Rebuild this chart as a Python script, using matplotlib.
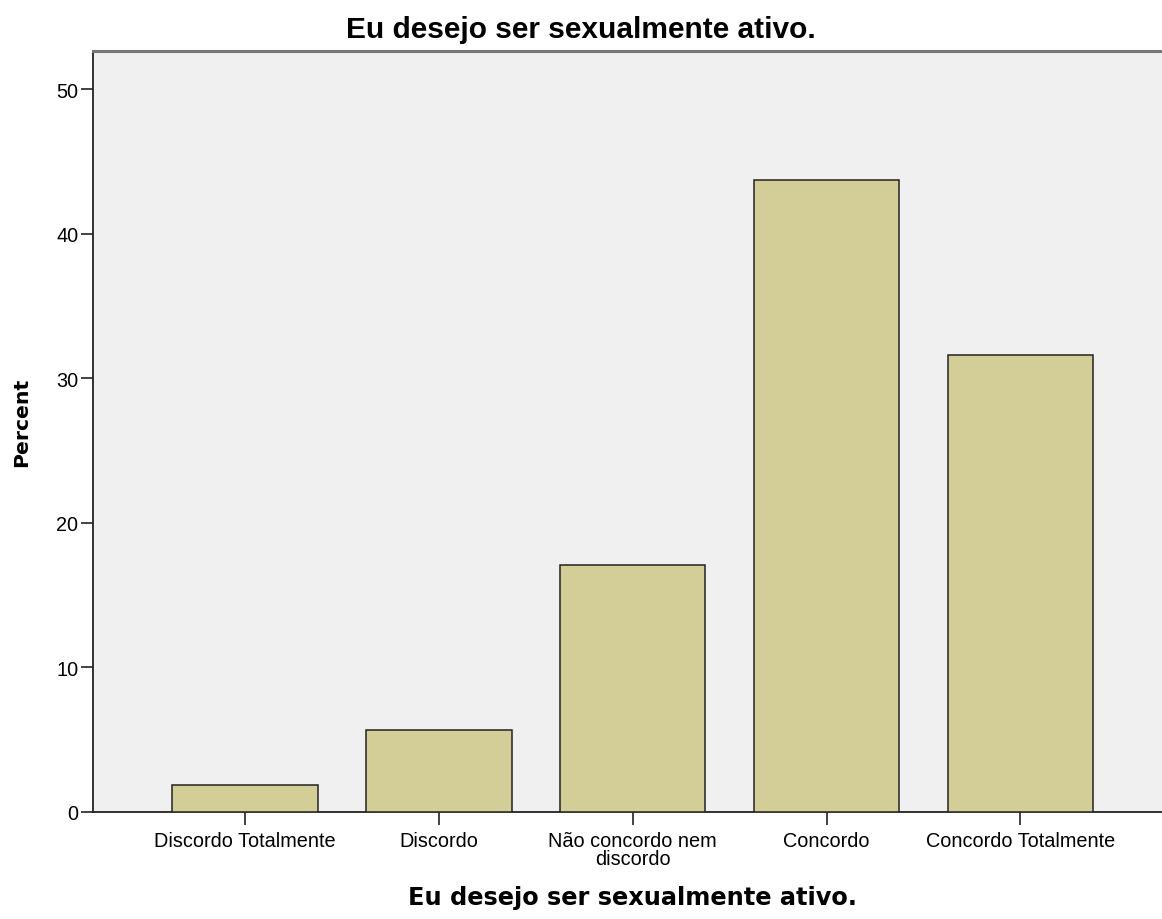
import matplotlib
matplotlib.use("Agg")
import matplotlib.pyplot as plt
import numpy as np

categories = ["Discordo Totalmente", "Discordo", "Não concordo nem\ndiscordo",
              "Concordo", "Concordo Totalmente"]
percent = [1.9, 5.7, 17.1, 43.7, 31.6]
yticks = [0, 10, 20, 30, 40, 50]
title = "Eu desejo ser sexualmente ativo."
xlabel = "Eu desejo ser sexualmente ativo."
ylabel = "Percent"

W, H = 1162, 920
fig = plt.figure(figsize=(W / 100, H / 100), dpi=100)
fig.patch.set_facecolor("white")

ax = fig.add_axes([93 / W, 1 - 813 / H, 1 - 93 / W, (813 - 51.7) / H])
ax.set_facecolor("#F0F0F0")

x = np.arange(len(categories))
ax.bar(x, percent, width=0.75, color="#D3CE97", edgecolor="#222222",
       linewidth=1.1, zorder=3)

ax.set_xlim(-0.784, 4.73)
ax.set_ylim(0, 52.65)
ax.set_xticks(x)
ax.set_xticklabels(categories, fontfamily="Liberation Sans", fontsize=14.3,
                   linespacing=0.93, va="top")
ax.set_yticks(yticks)
ax.set_yticklabels([str(v) for v in yticks], fontfamily="Liberation Sans",
                   fontsize=14.3)
ax.tick_params(axis="both", direction="out", length=9, width=1.2,
               color="#222222")
ax.tick_params(axis="y", pad=1.5)
ax.tick_params(axis="x", pad=5)

for s in ["left", "bottom"]:
    ax.spines[s].set_color("#222222")
    ax.spines[s].set_linewidth(1.3)
ax.spines["top"].set_color("#777777")
ax.spines["top"].set_linewidth(2.2)
ax.spines["right"].set_visible(False)

fig.text(0.5, 1 - 30 / H, title, ha="center", va="center",
         fontfamily="Liberation Sans", fontweight="bold", fontsize=21.5)
fig.text(633 / W, 1 - 898 / H, xlabel, ha="center", va="center",
         fontfamily="DejaVu Sans", fontweight="bold", fontsize=17.3)
fig.text(22 / W, 1 - 422 / H, ylabel, ha="center", va="center",
         rotation=90, fontfamily="DejaVu Sans", fontweight="bold",
         fontsize=14.7)

fig.savefig("out.png", dpi=100, facecolor="white")
